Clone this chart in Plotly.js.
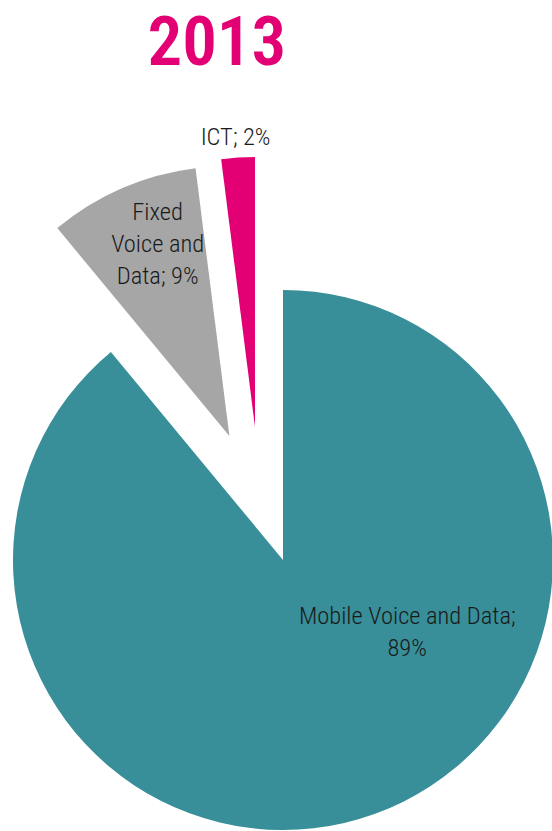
<!DOCTYPE html>
<html>
<head>
<meta charset="utf-8">
<script src="https://cdn.plot.ly/plotly-3.0.1.min.js"></script>
<style>
  html, body { margin: 0; padding: 0; background: #ffffff; overflow: hidden; width: 552px; height: 831px; }
  #chart { position: absolute; left: -122px; top: -35px; width: 810px; height: 1000px; }
  #chart .annotation-text { font-stretch: 75%; }
</style>
</head>
<body>
<div id="chart"></div>
<script>
// ---- data ----
const chartTitle = '2013';
const labels = ['Mobile Voice and Data', 'Fixed Voice and Data', 'ICT'];
const values = [89, 9, 2];
const labelLines = [['Mobile Voice and Data;'], ['Fixed', 'Voice and', 'Data;'], ['ICT;']];
const percentSep = ['<br>', ' ', ' '];
const colors = ['#388e99', '#a6a6a6', '#e20074'];
const pulls = [0, 0.5, 0];

// ---- page geometry (div is offset so the big pie fits) ----
const DIV_LEFT = -122, DIV_TOP = -35, DIV_W = 810, DIV_H = 1000;
function px(x) { return (x - DIV_LEFT) / DIV_W; }
function py(y) { return 1 - (y - DIV_TOP) / DIV_H; }

const R = 270;                 // pie radius in px
const ictApex = [255, 427];    // where the exploded ICT slice's tip sits on the page
const labelPos = [[407, 631], [157, 243], [235, 137]];
const textFont = { family: 'Roboto, sans-serif', size: 24.5, color: '#1a1a1a', weight: 300 };

const mainColors = colors.map((c, i) => (i === 2 ? 'rgba(0,0,0,0)' : c));
const ictColors = colors.map((c, i) => (i === 2 ? c : 'rgba(0,0,0,0)'));

const mainPie = {
  type: 'pie',
  labels: labels,
  values: values,
  sort: false,
  direction: 'clockwise',
  rotation: 0,
  pull: pulls,
  marker: { colors: mainColors, line: { width: 0 } },
  textinfo: 'none',
  hoverinfo: 'label+percent',
  showlegend: false,
  domain: { x: [0, 1], y: [0, 810 / DIV_H] }
};

// the exploded ICT slice, drawn from the same values with its own centre
const ictPie = {
  type: 'pie',
  labels: labels,
  values: values,
  sort: false,
  direction: 'clockwise',
  rotation: 0,
  marker: { colors: ictColors, line: { width: 0 } },
  textinfo: 'none',
  hoverinfo: 'skip',
  showlegend: false,
  domain: {
    x: [px(ictApex[0] - R), px(ictApex[0] + R)],
    y: [py(ictApex[1] + R), py(ictApex[1] - R)]
  }
};

const annotations = labels.map((l, i) => ({
  text: labelLines[i].join('<br>') + percentSep[i] + values[i] + '%',
  x: px(labelPos[i][0]), y: py(labelPos[i][1]),
  xref: 'paper', yref: 'paper', xanchor: 'center', yanchor: 'middle',
  showarrow: false, align: 'center', font: textFont
}));
annotations.push({
  text: chartTitle,
  x: px(216.5), y: py(41.5),
  xref: 'paper', yref: 'paper', xanchor: 'center', yanchor: 'middle',
  showarrow: false,
  font: { family: 'Roboto, sans-serif', size: 69, color: '#e20074', weight: 600 }
});

const layout = {
  width: DIV_W, height: DIV_H,
  margin: { l: 0, r: 0, t: 0, b: 0 },
  paper_bgcolor: '#ffffff',
  showlegend: false,
  annotations: annotations
};

Plotly.newPlot('chart', [mainPie, ictPie], layout, { displayModeBar: false, staticPlot: true });
</script>
</body>
</html>
